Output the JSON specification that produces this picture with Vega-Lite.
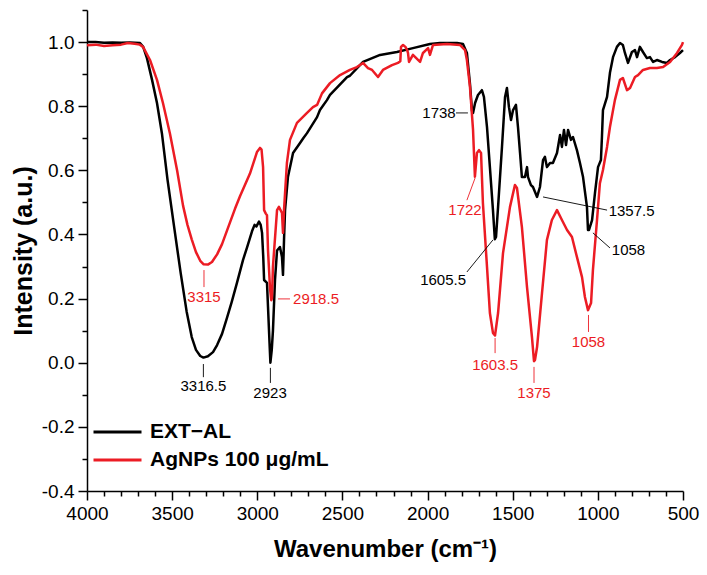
{
"$schema":"https://vega.github.io/schema/vega-lite/v6.json",
"width":596,"height":481,
"autosize":{"type":"none"},
"padding":{"left":87,"top":10,"right":24,"bottom":84},
"config":{"view":{"stroke":null},"font":"Liberation Sans","text":{"font":"Liberation Sans"}},
"datasets":{
"spec":[
{"w":4000,"v":1.0,"s":"EXT−AL"},{"w":3950,"v":1.0,"s":"EXT−AL"},{"w":3900,"v":0.998,"s":"EXT−AL"},{"w":3850,"v":0.999,"s":"EXT−AL"},{"w":3800,"v":0.998,"s":"EXT−AL"},{"w":3750,"v":0.999,"s":"EXT−AL"},{"w":3720,"v":0.998,"s":"EXT−AL"},{"w":3689,"v":0.997,"s":"EXT−AL"},{"w":3670,"v":0.985,"s":"EXT−AL"},{"w":3648,"v":0.95,"s":"EXT−AL"},{"w":3618,"v":0.882,"s":"EXT−AL"},{"w":3589,"v":0.81,"s":"EXT−AL"},{"w":3560,"v":0.715,"s":"EXT−AL"},{"w":3527,"v":0.57,"s":"EXT−AL"},{"w":3490,"v":0.43,"s":"EXT−AL"},{"w":3450,"v":0.28,"s":"EXT−AL"},{"w":3415,"v":0.16,"s":"EXT−AL"},{"w":3385,"v":0.08,"s":"EXT−AL"},{"w":3360,"v":0.04,"s":"EXT−AL"},{"w":3335,"v":0.021,"s":"EXT−AL"},{"w":3316,"v":0.016,"s":"EXT−AL"},{"w":3290,"v":0.02,"s":"EXT−AL"},{"w":3260,"v":0.033,"s":"EXT−AL"},{"w":3236,"v":0.055,"s":"EXT−AL"},{"w":3207,"v":0.09,"s":"EXT−AL"},{"w":3178,"v":0.14,"s":"EXT−AL"},{"w":3150,"v":0.19,"s":"EXT−AL"},{"w":3119,"v":0.25,"s":"EXT−AL"},{"w":3084,"v":0.32,"s":"EXT−AL"},{"w":3060,"v":0.36,"s":"EXT−AL"},{"w":3031,"v":0.41,"s":"EXT−AL"},{"w":3016,"v":0.43,"s":"EXT−AL"},{"w":3005,"v":0.425,"s":"EXT−AL"},{"w":2990,"v":0.44,"s":"EXT−AL"},{"w":2980,"v":0.43,"s":"EXT−AL"},{"w":2972,"v":0.405,"s":"EXT−AL"},{"w":2965,"v":0.33,"s":"EXT−AL"},{"w":2960,"v":0.258,"s":"EXT−AL"},{"w":2943,"v":0.249,"s":"EXT−AL"},{"w":2937,"v":0.174,"s":"EXT−AL"},{"w":2928,"v":0.06,"s":"EXT−AL"},{"w":2923,"v":0.0,"s":"EXT−AL"},{"w":2915,"v":0.04,"s":"EXT−AL"},{"w":2908,"v":0.1,"s":"EXT−AL"},{"w":2896,"v":0.258,"s":"EXT−AL"},{"w":2884,"v":0.35,"s":"EXT−AL"},{"w":2867,"v":0.361,"s":"EXT−AL"},{"w":2855,"v":0.33,"s":"EXT−AL"},{"w":2849,"v":0.274,"s":"EXT−AL"},{"w":2843,"v":0.383,"s":"EXT−AL"},{"w":2837,"v":0.476,"s":"EXT−AL"},{"w":2820,"v":0.579,"s":"EXT−AL"},{"w":2790,"v":0.654,"s":"EXT−AL"},{"w":2749,"v":0.685,"s":"EXT−AL"},{"w":2730,"v":0.7,"s":"EXT−AL"},{"w":2708,"v":0.716,"s":"EXT−AL"},{"w":2649,"v":0.766,"s":"EXT−AL"},{"w":2632,"v":0.788,"s":"EXT−AL"},{"w":2591,"v":0.819,"s":"EXT−AL"},{"w":2573,"v":0.835,"s":"EXT−AL"},{"w":2473,"v":0.891,"s":"EXT−AL"},{"w":2456,"v":0.895,"s":"EXT−AL"},{"w":2379,"v":0.938,"s":"EXT−AL"},{"w":2279,"v":0.96,"s":"EXT−AL"},{"w":2180,"v":0.969,"s":"EXT−AL"},{"w":2086,"v":0.981,"s":"EXT−AL"},{"w":1986,"v":0.994,"s":"EXT−AL"},{"w":1927,"v":0.997,"s":"EXT−AL"},{"w":1827,"v":0.997,"s":"EXT−AL"},{"w":1792,"v":0.994,"s":"EXT−AL"},{"w":1769,"v":0.966,"s":"EXT−AL"},{"w":1751,"v":0.87,"s":"EXT−AL"},{"w":1739,"v":0.785,"s":"EXT−AL"},{"w":1733,"v":0.779,"s":"EXT−AL"},{"w":1721,"v":0.81,"s":"EXT−AL"},{"w":1704,"v":0.835,"s":"EXT−AL"},{"w":1681,"v":0.85,"s":"EXT−AL"},{"w":1669,"v":0.829,"s":"EXT−AL"},{"w":1651,"v":0.735,"s":"EXT−AL"},{"w":1634,"v":0.61,"s":"EXT−AL"},{"w":1616,"v":0.476,"s":"EXT−AL"},{"w":1605,"v":0.385,"s":"EXT−AL"},{"w":1598,"v":0.392,"s":"EXT−AL"},{"w":1586,"v":0.486,"s":"EXT−AL"},{"w":1563,"v":0.673,"s":"EXT−AL"},{"w":1545,"v":0.829,"s":"EXT−AL"},{"w":1534,"v":0.857,"s":"EXT−AL"},{"w":1522,"v":0.797,"s":"EXT−AL"},{"w":1510,"v":0.757,"s":"EXT−AL"},{"w":1498,"v":0.788,"s":"EXT−AL"},{"w":1481,"v":0.804,"s":"EXT−AL"},{"w":1469,"v":0.735,"s":"EXT−AL"},{"w":1457,"v":0.654,"s":"EXT−AL"},{"w":1446,"v":0.579,"s":"EXT−AL"},{"w":1428,"v":0.579,"s":"EXT−AL"},{"w":1416,"v":0.61,"s":"EXT−AL"},{"w":1410,"v":0.579,"s":"EXT−AL"},{"w":1393,"v":0.554,"s":"EXT−AL"},{"w":1381,"v":0.548,"s":"EXT−AL"},{"w":1357,"v":0.517,"s":"EXT−AL"},{"w":1340,"v":0.548,"s":"EXT−AL"},{"w":1322,"v":0.632,"s":"EXT−AL"},{"w":1311,"v":0.642,"s":"EXT−AL"},{"w":1299,"v":0.61,"s":"EXT−AL"},{"w":1281,"v":0.623,"s":"EXT−AL"},{"w":1264,"v":0.623,"s":"EXT−AL"},{"w":1240,"v":0.654,"s":"EXT−AL"},{"w":1222,"v":0.71,"s":"EXT−AL"},{"w":1211,"v":0.673,"s":"EXT−AL"},{"w":1199,"v":0.726,"s":"EXT−AL"},{"w":1187,"v":0.679,"s":"EXT−AL"},{"w":1175,"v":0.726,"s":"EXT−AL"},{"w":1158,"v":0.695,"s":"EXT−AL"},{"w":1146,"v":0.704,"s":"EXT−AL"},{"w":1123,"v":0.663,"s":"EXT−AL"},{"w":1105,"v":0.623,"s":"EXT−AL"},{"w":1087,"v":0.579,"s":"EXT−AL"},{"w":1064,"v":0.486,"s":"EXT−AL"},{"w":1058,"v":0.414,"s":"EXT−AL"},{"w":1052,"v":0.414,"s":"EXT−AL"},{"w":1034,"v":0.445,"s":"EXT−AL"},{"w":1017,"v":0.529,"s":"EXT−AL"},{"w":999,"v":0.61,"s":"EXT−AL"},{"w":982,"v":0.632,"s":"EXT−AL"},{"w":976,"v":0.704,"s":"EXT−AL"},{"w":970,"v":0.788,"s":"EXT−AL"},{"w":946,"v":0.829,"s":"EXT−AL"},{"w":929,"v":0.904,"s":"EXT−AL"},{"w":911,"v":0.953,"s":"EXT−AL"},{"w":888,"v":0.985,"s":"EXT−AL"},{"w":870,"v":0.997,"s":"EXT−AL"},{"w":853,"v":0.991,"s":"EXT−AL"},{"w":841,"v":0.966,"s":"EXT−AL"},{"w":823,"v":0.935,"s":"EXT−AL"},{"w":800,"v":0.969,"s":"EXT−AL"},{"w":782,"v":0.975,"s":"EXT−AL"},{"w":770,"v":0.953,"s":"EXT−AL"},{"w":753,"v":0.985,"s":"EXT−AL"},{"w":735,"v":0.969,"s":"EXT−AL"},{"w":712,"v":0.95,"s":"EXT−AL"},{"w":694,"v":0.953,"s":"EXT−AL"},{"w":676,"v":0.938,"s":"EXT−AL"},{"w":653,"v":0.944,"s":"EXT−AL"},{"w":623,"v":0.938,"s":"EXT−AL"},{"w":594,"v":0.935,"s":"EXT−AL"},{"w":576,"v":0.944,"s":"EXT−AL"},{"w":547,"v":0.953,"s":"EXT−AL"},{"w":518,"v":0.966,"s":"EXT−AL"},{"w":500,"v":0.975,"s":"EXT−AL"},
{"w":4000,"v":0.99,"s":"AgNPs 100 μg/mL"},{"w":3950,"v":0.992,"s":"AgNPs 100 μg/mL"},{"w":3900,"v":0.988,"s":"AgNPs 100 μg/mL"},{"w":3850,"v":0.99,"s":"AgNPs 100 μg/mL"},{"w":3800,"v":0.992,"s":"AgNPs 100 μg/mL"},{"w":3760,"v":0.997,"s":"AgNPs 100 μg/mL"},{"w":3720,"v":0.995,"s":"AgNPs 100 μg/mL"},{"w":3690,"v":0.992,"s":"AgNPs 100 μg/mL"},{"w":3671,"v":0.985,"s":"AgNPs 100 μg/mL"},{"w":3630,"v":0.944,"s":"AgNPs 100 μg/mL"},{"w":3589,"v":0.882,"s":"AgNPs 100 μg/mL"},{"w":3554,"v":0.81,"s":"AgNPs 100 μg/mL"},{"w":3513,"v":0.715,"s":"AgNPs 100 μg/mL"},{"w":3471,"v":0.6,"s":"AgNPs 100 μg/mL"},{"w":3436,"v":0.49,"s":"AgNPs 100 μg/mL"},{"w":3410,"v":0.43,"s":"AgNPs 100 μg/mL"},{"w":3385,"v":0.385,"s":"AgNPs 100 μg/mL"},{"w":3360,"v":0.345,"s":"AgNPs 100 μg/mL"},{"w":3335,"v":0.318,"s":"AgNPs 100 μg/mL"},{"w":3315,"v":0.307,"s":"AgNPs 100 μg/mL"},{"w":3290,"v":0.306,"s":"AgNPs 100 μg/mL"},{"w":3266,"v":0.314,"s":"AgNPs 100 μg/mL"},{"w":3236,"v":0.338,"s":"AgNPs 100 μg/mL"},{"w":3207,"v":0.37,"s":"AgNPs 100 μg/mL"},{"w":3178,"v":0.412,"s":"AgNPs 100 μg/mL"},{"w":3131,"v":0.48,"s":"AgNPs 100 μg/mL"},{"w":3101,"v":0.52,"s":"AgNPs 100 μg/mL"},{"w":3043,"v":0.59,"s":"AgNPs 100 μg/mL"},{"w":3002,"v":0.657,"s":"AgNPs 100 μg/mL"},{"w":2984,"v":0.67,"s":"AgNPs 100 μg/mL"},{"w":2975,"v":0.665,"s":"AgNPs 100 μg/mL"},{"w":2966,"v":0.61,"s":"AgNPs 100 μg/mL"},{"w":2960,"v":0.476,"s":"AgNPs 100 μg/mL"},{"w":2950,"v":0.465,"s":"AgNPs 100 μg/mL"},{"w":2943,"v":0.46,"s":"AgNPs 100 μg/mL"},{"w":2937,"v":0.35,"s":"AgNPs 100 μg/mL"},{"w":2925,"v":0.23,"s":"AgNPs 100 μg/mL"},{"w":2918,"v":0.195,"s":"AgNPs 100 μg/mL"},{"w":2914,"v":0.2,"s":"AgNPs 100 μg/mL"},{"w":2908,"v":0.3,"s":"AgNPs 100 μg/mL"},{"w":2884,"v":0.476,"s":"AgNPs 100 μg/mL"},{"w":2873,"v":0.486,"s":"AgNPs 100 μg/mL"},{"w":2855,"v":0.467,"s":"AgNPs 100 μg/mL"},{"w":2849,"v":0.405,"s":"AgNPs 100 μg/mL"},{"w":2843,"v":0.476,"s":"AgNPs 100 μg/mL"},{"w":2826,"v":0.623,"s":"AgNPs 100 μg/mL"},{"w":2808,"v":0.695,"s":"AgNPs 100 μg/mL"},{"w":2767,"v":0.748,"s":"AgNPs 100 μg/mL"},{"w":2708,"v":0.779,"s":"AgNPs 100 μg/mL"},{"w":2673,"v":0.797,"s":"AgNPs 100 μg/mL"},{"w":2649,"v":0.804,"s":"AgNPs 100 μg/mL"},{"w":2620,"v":0.84,"s":"AgNPs 100 μg/mL"},{"w":2573,"v":0.872,"s":"AgNPs 100 μg/mL"},{"w":2514,"v":0.897,"s":"AgNPs 100 μg/mL"},{"w":2456,"v":0.913,"s":"AgNPs 100 μg/mL"},{"w":2415,"v":0.922,"s":"AgNPs 100 μg/mL"},{"w":2379,"v":0.935,"s":"AgNPs 100 μg/mL"},{"w":2350,"v":0.919,"s":"AgNPs 100 μg/mL"},{"w":2326,"v":0.913,"s":"AgNPs 100 μg/mL"},{"w":2291,"v":0.891,"s":"AgNPs 100 μg/mL"},{"w":2262,"v":0.913,"s":"AgNPs 100 μg/mL"},{"w":2209,"v":0.928,"s":"AgNPs 100 μg/mL"},{"w":2174,"v":0.935,"s":"AgNPs 100 μg/mL"},{"w":2160,"v":0.94,"s":"AgNPs 100 μg/mL"},{"w":2156,"v":0.985,"s":"AgNPs 100 μg/mL"},{"w":2144,"v":0.991,"s":"AgNPs 100 μg/mL"},{"w":2130,"v":0.985,"s":"AgNPs 100 μg/mL"},{"w":2120,"v":0.975,"s":"AgNPs 100 μg/mL"},{"w":2115,"v":0.966,"s":"AgNPs 100 μg/mL"},{"w":2109,"v":0.938,"s":"AgNPs 100 μg/mL"},{"w":2086,"v":0.96,"s":"AgNPs 100 μg/mL"},{"w":2044,"v":0.938,"s":"AgNPs 100 μg/mL"},{"w":2027,"v":0.966,"s":"AgNPs 100 μg/mL"},{"w":1997,"v":0.981,"s":"AgNPs 100 μg/mL"},{"w":1986,"v":0.96,"s":"AgNPs 100 μg/mL"},{"w":1968,"v":0.991,"s":"AgNPs 100 μg/mL"},{"w":1886,"v":0.994,"s":"AgNPs 100 μg/mL"},{"w":1810,"v":0.991,"s":"AgNPs 100 μg/mL"},{"w":1780,"v":0.975,"s":"AgNPs 100 μg/mL"},{"w":1769,"v":0.944,"s":"AgNPs 100 μg/mL"},{"w":1751,"v":0.86,"s":"AgNPs 100 μg/mL"},{"w":1733,"v":0.726,"s":"AgNPs 100 μg/mL"},{"w":1722,"v":0.58,"s":"AgNPs 100 μg/mL"},{"w":1710,"v":0.654,"s":"AgNPs 100 μg/mL"},{"w":1698,"v":0.663,"s":"AgNPs 100 μg/mL"},{"w":1686,"v":0.654,"s":"AgNPs 100 μg/mL"},{"w":1675,"v":0.498,"s":"AgNPs 100 μg/mL"},{"w":1651,"v":0.299,"s":"AgNPs 100 μg/mL"},{"w":1634,"v":0.155,"s":"AgNPs 100 μg/mL"},{"w":1616,"v":0.093,"s":"AgNPs 100 μg/mL"},{"w":1604,"v":0.085,"s":"AgNPs 100 μg/mL"},{"w":1586,"v":0.155,"s":"AgNPs 100 μg/mL"},{"w":1557,"v":0.342,"s":"AgNPs 100 μg/mL"},{"w":1516,"v":0.486,"s":"AgNPs 100 μg/mL"},{"w":1487,"v":0.554,"s":"AgNPs 100 μg/mL"},{"w":1475,"v":0.545,"s":"AgNPs 100 μg/mL"},{"w":1446,"v":0.423,"s":"AgNPs 100 μg/mL"},{"w":1416,"v":0.236,"s":"AgNPs 100 μg/mL"},{"w":1387,"v":0.08,"s":"AgNPs 100 μg/mL"},{"w":1375,"v":0.005,"s":"AgNPs 100 μg/mL"},{"w":1369,"v":0.009,"s":"AgNPs 100 μg/mL"},{"w":1357,"v":0.049,"s":"AgNPs 100 μg/mL"},{"w":1328,"v":0.217,"s":"AgNPs 100 μg/mL"},{"w":1299,"v":0.383,"s":"AgNPs 100 μg/mL"},{"w":1270,"v":0.445,"s":"AgNPs 100 μg/mL"},{"w":1240,"v":0.476,"s":"AgNPs 100 μg/mL"},{"w":1211,"v":0.445,"s":"AgNPs 100 μg/mL"},{"w":1181,"v":0.414,"s":"AgNPs 100 μg/mL"},{"w":1152,"v":0.392,"s":"AgNPs 100 μg/mL"},{"w":1123,"v":0.33,"s":"AgNPs 100 μg/mL"},{"w":1093,"v":0.267,"s":"AgNPs 100 μg/mL"},{"w":1076,"v":0.205,"s":"AgNPs 100 μg/mL"},{"w":1058,"v":0.164,"s":"AgNPs 100 μg/mL"},{"w":1040,"v":0.186,"s":"AgNPs 100 μg/mL"},{"w":1029,"v":0.289,"s":"AgNPs 100 μg/mL"},{"w":1005,"v":0.445,"s":"AgNPs 100 μg/mL"},{"w":988,"v":0.56,"s":"AgNPs 100 μg/mL"},{"w":970,"v":0.601,"s":"AgNPs 100 μg/mL"},{"w":946,"v":0.673,"s":"AgNPs 100 μg/mL"},{"w":929,"v":0.735,"s":"AgNPs 100 μg/mL"},{"w":900,"v":0.819,"s":"AgNPs 100 μg/mL"},{"w":870,"v":0.882,"s":"AgNPs 100 μg/mL"},{"w":853,"v":0.888,"s":"AgNPs 100 μg/mL"},{"w":829,"v":0.85,"s":"AgNPs 100 μg/mL"},{"w":811,"v":0.857,"s":"AgNPs 100 μg/mL"},{"w":782,"v":0.891,"s":"AgNPs 100 μg/mL"},{"w":764,"v":0.897,"s":"AgNPs 100 μg/mL"},{"w":735,"v":0.913,"s":"AgNPs 100 μg/mL"},{"w":694,"v":0.919,"s":"AgNPs 100 μg/mL"},{"w":653,"v":0.919,"s":"AgNPs 100 μg/mL"},{"w":617,"v":0.922,"s":"AgNPs 100 μg/mL"},{"w":576,"v":0.938,"s":"AgNPs 100 μg/mL"},{"w":535,"v":0.966,"s":"AgNPs 100 μg/mL"},{"w":506,"v":0.991,"s":"AgNPs 100 μg/mL"},{"w":500,"v":1.0,"s":"AgNPs 100 μg/mL"}
],
"lead":[
{"w":3316.5,"v":-0.004,"w2":3316.5,"v2":-0.045,"s":"EXT−AL"},
{"w":2923,"v":-0.016,"w2":2923,"v2":-0.063,"s":"EXT−AL"},
{"w":1833,"v":0.779,"w2":1763,"v2":0.779,"s":"EXT−AL"},
{"w":1769,"v":0.283,"w2":1616,"v2":0.383,"s":"EXT−AL"},
{"w":1322,"v":0.517,"w2":946,"v2":0.476,"s":"EXT−AL"},
{"w":1029,"v":0.405,"w2":929,"v2":0.358,"s":"EXT−AL"},
{"w":3313,"v":0.289,"w2":3313,"v2":0.236,"s":"AgNPs 100 μg/mL"},
{"w":2878,"v":0.199,"w2":2808,"v2":0.199,"s":"AgNPs 100 μg/mL"},
{"w":1769,"v":0.507,"w2":1721,"v2":0.576,"s":"AgNPs 100 μg/mL"},
{"w":1603.5,"v":0.077,"w2":1603.5,"v2":0.03,"s":"AgNPs 100 μg/mL"},
{"w":1375,"v":-0.013,"w2":1375,"v2":-0.063,"s":"AgNPs 100 μg/mL"},
{"w":1055,"v":0.149,"w2":1055,"v2":0.096,"s":"AgNPs 100 μg/mL"}
],
"lab":[
{"w":3316.5,"v":-0.074,"t":"3316.5","s":"EXT−AL"},
{"w":2925,"v":-0.094,"t":"2923","s":"EXT−AL"},
{"w":1933,"v":0.779,"t":"1738","s":"EXT−AL"},
{"w":1909,"v":0.258,"t":"1605.5","s":"EXT−AL"},
{"w":802,"v":0.473,"t":"1357.5","s":"EXT−AL"},
{"w":820,"v":0.351,"t":"1058","s":"EXT−AL"},
{"w":3313,"v":0.205,"t":"3315","s":"AgNPs 100 μg/mL"},
{"w":2655,"v":0.199,"t":"2918.5","s":"AgNPs 100 μg/mL"},
{"w":1780,"v":0.476,"t":"1722","s":"AgNPs 100 μg/mL"},
{"w":1603.5,"v":-0.007,"t":"1603.5","s":"AgNPs 100 μg/mL"},
{"w":1375,"v":-0.094,"t":"1375","s":"AgNPs 100 μg/mL"},
{"w":1055,"v":0.065,"t":"1058","s":"AgNPs 100 μg/mL"}
]
},
"encoding":{
"x":{"field":"w","type":"quantitative","scale":{"domain":[500,4000],"reverse":true,"nice":false,"zero":false},
"axis":{"values":[500,600,700,800,900,1000,1100,1200,1300,1400,1500,1600,1700,1800,1900,2000,2100,2200,2300,2400,2500,2600,2700,2800,2900,3000,3100,3200,3300,3400,3500,3600,3700,3800,3900,4000],
"format":"d","labelExpr":"datum.value % 500 === 0 ? datum.label : ''",
"tickSize":{"condition":{"test":"datum.value % 500 === 0","value":9},"value":5},
"labelFontSize":19,"labelPadding":4,"labelOverlap":false,"labelFlush":false,"labelColor":"black",
"domainColor":"black","domainWidth":1.5,"tickColor":"black","tickWidth":1.5,"grid":false,
"title":"Wavenumber (cm⁻¹)","titleFontSize":24,"titleFontWeight":"bold","titlePadding":14,"titleColor":"black"}},
"y":{"field":"v","type":"quantitative","scale":{"domain":[-0.4,1.1],"nice":false,"zero":false},
"axis":{"values":[-0.4,-0.3,-0.2,-0.1,0,0.1,0.2,0.3,0.4,0.5,0.6,0.7,0.8,0.9,1.0,1.1],
"labelExpr":"abs(round(datum.value*10)) % 2 === 0 ? replace(format(datum.value,'.1f'),'−','-') : ''",
"tickSize":{"condition":{"test":"abs(round(datum.value*10)) % 2 === 0","value":9},"value":5},
"labelFontSize":19,"labelPadding":4,"labelOverlap":false,"labelColor":"black",
"domainColor":"black","domainWidth":1.5,"tickColor":"black","tickWidth":1.5,"grid":false,
"title":"Intensity (a.u.)","titleFontSize":25,"titleFontWeight":"bold","titlePadding":5,"titleColor":"black"}}
},
"layer":[
{"data":{"name":"spec"},"mark":{"type":"line","strokeWidth":2.5,"strokeJoin":"round"},
"encoding":{"color":{"field":"s","type":"nominal","scale":{"domain":["EXT−AL","AgNPs 100 μg/mL"],"range":["#000000","#ec1c24"]},
"legend":{"orient":"none","legendX":5,"legendY":408,"title":null,"symbolType":"stroke","symbolSize":2304,"symbolStrokeWidth":3,"clipHeight":28,"labelFontSize":21,"labelFontWeight":"bold","labelOffset":7,"padding":0,"rowPadding":0,"labelColor":"black","labelLimit":400}}}},
{"data":{"name":"lead"},"mark":{"type":"rule","strokeWidth":0.9},
"encoding":{"x2":{"field":"w2"},"y2":{"field":"v2"},"color":{"field":"s","type":"nominal","legend":null}}},
{"data":{"name":"lab"},"mark":{"type":"text","fontSize":15,"baseline":"middle","align":"center"},
"encoding":{"text":{"field":"t"},"color":{"field":"s","type":"nominal","legend":null}}}
]
}
